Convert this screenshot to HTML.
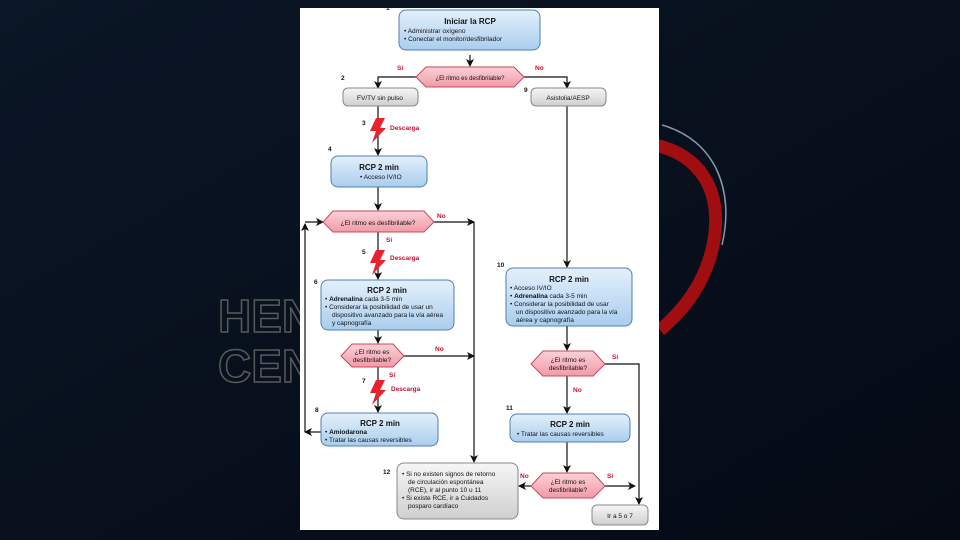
<!DOCTYPE html>
<html><head><meta charset="utf-8"><style>
html,body{margin:0;padding:0;background:#07101c;}
svg{display:block}
text{font-family:"Liberation Sans",sans-serif;}
</style></head><body>
<svg width="960" height="540" viewBox="0 0 960 540" xmlns="http://www.w3.org/2000/svg">
<defs>
<linearGradient id="bg" x1="0" y1="0" x2="1" y2="1"><stop offset="0" stop-color="#0b1626"/><stop offset="1" stop-color="#050a14"/></linearGradient>
<linearGradient id="blue" x1="0" y1="0" x2="0" y2="1"><stop offset="0" stop-color="#e4f0fb"/><stop offset="1" stop-color="#a9cdee"/></linearGradient>
<linearGradient id="grey" x1="0" y1="0" x2="0" y2="1"><stop offset="0" stop-color="#f6f6f6"/><stop offset="1" stop-color="#cfcfcf"/></linearGradient>
<linearGradient id="pink" x1="0" y1="0" x2="0" y2="1"><stop offset="0" stop-color="#fbd0d6"/><stop offset="1" stop-color="#f19aa8"/></linearGradient>
<marker id="a" markerWidth="8" markerHeight="8" refX="7" refY="4" orient="auto" markerUnits="userSpaceOnUse"><path d="M0,0 L8,4 L0,8 L2,4 z" fill="#111"/></marker>
</defs>
<rect width="960" height="540" fill="url(#bg)"/>
<path d="M655,145 C700,155 722,190 714,240 C708,275 690,305 660,330" fill="none" stroke="#a00e12" stroke-width="13"/>
<path d="M662,125 C715,140 735,190 722,245" fill="none" stroke="#8899aa" stroke-width="1.5"/>
<g font-size="46" font-weight="bold" fill="none" stroke="#5a5a5a" stroke-width="1.5">
<text x="218" y="332">HEN</text><text x="218" y="382">CEN</text></g>
<rect x="300" y="8" width="359" height="522" fill="#ffffff"/>
<g stroke="#111" stroke-width="1.2" fill="none">
<line x1="470" y1="55" x2="470" y2="66" marker-end="url(#a)"/>
<polyline points="416,77 378,77 378,88" marker-end="url(#a)"/>
<polyline points="524,77 567,77 567,88" marker-end="url(#a)"/>
<line x1="378" y1="106" x2="378" y2="155" marker-end="url(#a)"/>
<line x1="378" y1="187" x2="378" y2="210" marker-end="url(#a)"/>
<line x1="305" y1="222" x2="323" y2="222" marker-end="url(#a)"/>
<line x1="434" y1="222" x2="474" y2="222" marker-end="url(#a)"/>
<line x1="474" y1="222" x2="474" y2="462" marker-end="url(#a)"/>
<line x1="378" y1="232" x2="378" y2="279" marker-end="url(#a)"/>
<line x1="378" y1="330" x2="378" y2="343" marker-end="url(#a)"/>
<line x1="404" y1="356" x2="474" y2="356" marker-end="url(#a)"/>
<line x1="378" y1="367" x2="378" y2="412" marker-end="url(#a)"/>
<line x1="321" y1="432" x2="305" y2="432" marker-end="url(#a)"/>
<line x1="305" y1="432" x2="305" y2="224" marker-end="url(#a)"/>
<line x1="567" y1="106" x2="567" y2="267" marker-end="url(#a)"/>
<line x1="567" y1="326" x2="567" y2="350" marker-end="url(#a)"/>
<polyline points="605,364 639,364 639,504" marker-end="url(#a)"/>
<line x1="567" y1="376" x2="567" y2="413" marker-end="url(#a)"/>
<line x1="567" y1="442" x2="567" y2="472" marker-end="url(#a)"/>
<line x1="531" y1="486" x2="519" y2="486" marker-end="url(#a)"/>
<line x1="605" y1="486" x2="635" y2="486" marker-end="url(#a)"/>
</g>
<g stroke="#4f7fb0" stroke-width="1">
<rect x="399" y="10" width="141" height="40" rx="7" fill="url(#blue)"/>
<rect x="331" y="156" width="96" height="31" rx="7" fill="url(#blue)"/>
<rect x="321" y="280" width="133" height="50" rx="7" fill="url(#blue)"/>
<rect x="321" y="413" width="117" height="33" rx="7" fill="url(#blue)"/>
<rect x="506" y="268" width="126" height="58" rx="7" fill="url(#blue)"/>
<rect x="510" y="414" width="120" height="28" rx="7" fill="url(#blue)"/>
</g>
<g stroke="#888" stroke-width="1">
<rect x="343" y="88" width="75" height="18" rx="5" fill="url(#grey)"/>
<rect x="531" y="88" width="75" height="18" rx="5" fill="url(#grey)"/>
<rect x="397" y="463" width="121" height="56" rx="7" fill="url(#grey)"/>
<rect x="592" y="505" width="56" height="20" rx="5" fill="url(#grey)"/>
</g>
<g stroke="#c8485c" stroke-width="1" fill="url(#pink)">
<polygon points="416,77 426,67 514,67 524,77 514,87 426,87"/>
<polygon points="323,222 333,211 424,211 434,222 424,232 333,232"/>
<polygon points="341,356 352,344 393,344 404,356 393,367 352,367"/>
<polygon points="531,364 543,351 593,351 605,364 593,376 543,376"/>
<polygon points="531,486 543,473 593,473 605,486 593,498 543,498"/>
</g>
<g fill="#e8232e">
<path d="M376,118 L385,118 L380,128 L386,128 L372,143 L376,131 L370,131 z"/>
<path d="M376,250 L385,250 L380,260 L386,260 L372,275 L376,263 L370,263 z"/>
<path d="M376,380 L385,380 L380,390 L386,390 L372,405 L376,393 L370,393 z"/>
</g>
<g font-size="6.5" fill="#111">
<text x="470" y="24" text-anchor="middle" font-weight="bold" font-size="8">Iniciar la RCP</text>
<text x="404" y="33">• Administrar oxígeno</text>
<text x="404" y="41">• Conectar el monitor/desfibrilador</text>
<text x="470" y="80" text-anchor="middle" font-size="6">¿El ritmo es desfibrilable?</text>
<text x="380" y="100" text-anchor="middle">FV/TV sin pulso</text>
<text x="568" y="100" text-anchor="middle">Asistolia/AESP</text>
<text x="379" y="170" text-anchor="middle" font-weight="bold" font-size="8">RCP 2 min</text>
<text x="360" y="179">• Acceso IV/IO</text>
<text x="378" y="225" text-anchor="middle">¿El ritmo es desfibrilable?</text>
<text x="387" y="293" text-anchor="middle" font-weight="bold" font-size="8">RCP 2 min</text>
<text x="325" y="301">• <tspan font-weight="bold">Adrenalina</tspan> cada 3-5 min</text>
<text x="325" y="309">• Considerar la posibilidad de usar un</text>
<text x="332" y="317">dispositivo avanzado para la vía aérea</text>
<text x="332" y="325">y capnografía</text>
<text x="372" y="354" text-anchor="middle">¿El ritmo es</text>
<text x="372" y="362" text-anchor="middle">desfibrilable?</text>
<text x="380" y="426" text-anchor="middle" font-weight="bold" font-size="8">RCP 2 min</text>
<text x="325" y="434">• <tspan font-weight="bold">Amiodarona</tspan></text>
<text x="325" y="442">• Tratar las causas reversibles</text>
<text x="569" y="282" text-anchor="middle" font-weight="bold" font-size="8">RCP 2 min</text>
<text x="510" y="290">• Acceso IV/IO</text>
<text x="510" y="298">• <tspan font-weight="bold">Adrenalina</tspan> cada 3-5 min</text>
<text x="510" y="306">• Considerar la posibilidad de usar</text>
<text x="516" y="314">un dispositivo avanzado para la vía</text>
<text x="516" y="322">aérea y capnografía</text>
<text x="568" y="362" text-anchor="middle">¿El ritmo es</text>
<text x="568" y="370" text-anchor="middle">desfibrilable?</text>
<text x="570" y="427" text-anchor="middle" font-weight="bold" font-size="8">RCP 2 min</text>
<text x="517" y="436">• Tratar las causas reversibles</text>
<text x="568" y="484" text-anchor="middle">¿El ritmo es</text>
<text x="568" y="492" text-anchor="middle">desfibrilable?</text>
<text x="402" y="476">• Si no existen signos de retorno</text>
<text x="408" y="484">de circulación espontánea</text>
<text x="408" y="492">(RCE), ir al punto 10 u 11</text>
<text x="402" y="500">• Si existe RCE, ir a Cuidados</text>
<text x="408" y="508">posparo cardíaco</text>
<text x="620" y="518" text-anchor="middle">Ir a 5 o 7</text>
</g>
<g font-size="6.5" font-weight="bold" fill="#111">
<text x="386" y="10">1</text><text x="341" y="80">2</text><text x="524" y="92">9</text>
<text x="362" y="125">3</text><text x="328" y="151">4</text><text x="362" y="254">5</text>
<text x="314" y="284">6</text><text x="362" y="383">7</text><text x="315" y="412">8</text>
<text x="497" y="267">10</text><text x="506" y="410">11</text><text x="383" y="474">12</text>
</g>
<g font-size="6.5" font-weight="bold" fill="#c8102e">
<text x="397" y="70">Sí</text><text x="535" y="70">No</text>
<text x="390" y="130">Descarga</text>
<text x="437" y="218">No</text><text x="386" y="242">Sí</text>
<text x="390" y="260">Descarga</text>
<text x="435" y="351">No</text><text x="389" y="377">Sí</text>
<text x="391" y="391">Descarga</text>
<text x="612" y="359">Sí</text><text x="573" y="392">No</text>
<text x="520" y="478">No</text><text x="607" y="478">Sí</text>
</g>
</svg>
</body></html>
